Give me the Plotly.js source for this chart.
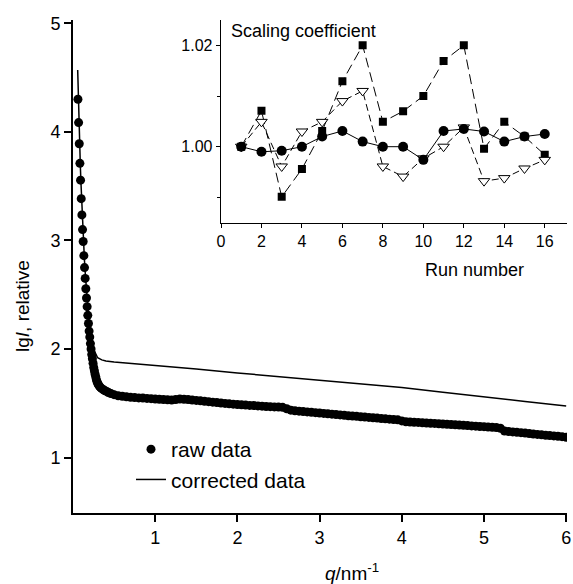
<!DOCTYPE html>
<html>
<head>
<meta charset="utf-8">
<script src="https://cdn.plot.ly/plotly-3.0.1.min.js"></script>
<style>html,body{margin:0;padding:0;background:#fff;}#chart{width:573px;height:584px;}</style>
</head>
<body>
<div id="chart"></div>
<script>
// ---- Main plot: raw data (dots) ----
const rawQ = [0.060,0.068,0.076,0.084,0.092,0.100,0.108,0.116,0.124,0.132,0.140,0.148,0.156,0.164,0.172,0.180,0.188,0.196,0.204,0.212,
  0.220,0.228,0.236,0.244,0.252,0.260,0.268,0.276,0.284,0.292,0.300,0.310,0.320,0.335,0.350,0.370,0.390,0.410,0.430,0.460,0.500,0.550,
  0.60,0.65,0.70,0.75,0.80,0.85,0.90,0.95,1.00,1.05,1.10,1.15,1.20,1.25,1.30,1.35,1.40,1.45,1.50,1.55,1.60,1.65,1.70,1.75,1.80,1.85,1.90,1.95,
  2.00,2.05,2.10,2.15,2.20,2.25,2.30,2.35,2.40,2.45,2.50,2.55,2.60,2.65,2.70,2.75,2.80,2.85,2.90,2.95,3.00,3.05,3.10,3.15,3.20,3.25,3.30,3.35,
  3.40,3.45,3.50,3.55,3.60,3.65,3.70,3.75,3.80,3.85,3.90,3.95,4.00,4.05,4.10,4.15,4.20,4.25,4.30,4.35,4.40,4.45,4.50,4.55,4.60,4.65,4.70,4.75,
  4.80,4.85,4.90,4.95,5.00,5.05,5.10,5.15,5.20,5.25,5.30,5.35,5.40,5.45,5.50,5.55,5.60,5.65,5.70,5.75,5.80,5.85,5.90,5.95,6.00];
const rawLgI = [4.30,4.085,3.89,3.71,3.555,3.385,3.235,3.10,2.99,2.86,2.75,2.65,2.555,2.47,2.39,2.31,2.235,2.165,2.11,2.05,
  2.00,1.95,1.91,1.87,1.83,1.80,1.77,1.745,1.72,1.70,1.685,1.67,1.66,1.645,1.635,1.625,1.615,1.61,1.60,1.59,1.58,1.57,
  1.565,1.56,1.555,1.553,1.55,1.548,1.545,1.543,1.54,1.538,1.535,1.533,1.53,1.535,1.54,1.538,1.535,1.531,1.527,1.523,1.519,1.515,1.511,1.507,1.503,1.499,1.495,1.492,
  1.489,1.486,1.484,1.481,1.479,1.476,1.474,1.471,1.469,1.467,1.465,1.463,1.45,1.437,1.432,1.428,1.425,1.421,1.418,1.414,1.411,1.407,1.404,1.40,1.397,1.393,1.39,1.386,
  1.383,1.38,1.376,1.373,1.37,1.367,1.364,1.36,1.357,1.354,1.351,1.348,1.338,1.33,1.328,1.326,1.324,1.321,1.319,1.317,1.315,1.312,1.31,1.307,1.305,1.303,1.30,1.298,
  1.295,1.292,1.29,1.287,1.285,1.282,1.28,1.277,1.27,1.245,1.24,1.237,1.233,1.23,1.226,1.222,1.218,1.214,1.21,1.206,1.203,1.20,1.197,1.193,1.188];

// ---- Main plot: corrected data (line) ----
const corQ = [0.057,0.066,0.074,0.082,0.090,0.098,0.106,0.114,0.122,0.130,0.138,0.146,0.154,0.162,0.170,0.180,0.190,0.200,0.210,0.220,
  0.230,0.240,0.260,0.280,0.300,0.350,0.400,0.500,0.750,1.000,1.500,2.000,2.500,3.000,3.500,4.000,4.500,5.000,5.500,6.000];
const corLgI = [4.57,4.25,4.03,3.84,3.67,3.51,3.35,3.20,3.07,2.96,2.84,2.73,2.63,2.54,2.46,2.37,2.29,2.22,2.16,2.11,
  2.07,2.03,1.98,1.945,1.92,1.90,1.89,1.88,1.865,1.848,1.815,1.78,1.745,1.71,1.68,1.645,1.603,1.557,1.517,1.475];

// ---- Inset: scaling coefficient vs run number ----
const runs = [1,2,3,4,5,6,7,8,9,10,11,12,13,14,15,16];
const scaleCircles = [1.000,0.999,0.9992,1.000,1.002,1.0031,1.001,1.000,1.000,0.9974,1.0031,1.0035,1.003,1.001,1.002,1.0025];
const scaleSquares = [1.000,1.0071,0.9901,0.9956,1.0031,1.0129,1.020,1.0049,1.007,1.010,1.0169,1.020,0.9996,1.0049,1.002,0.9984];
const scaleTriangles = [1.000,1.0049,0.9961,1.003,1.0049,1.009,1.011,0.9961,0.9941,0.9977,1.000,1.0038,0.9932,0.9938,0.9957,0.9974];

const mainTicksX = [1,2,3,4,5,6];
const mainTicksY = [1,2,3,4,5];
const insetTicksY = [1.00,1.02];
const insetMinorY = [0.99,1.01];

const FONT = 'Liberation Sans, Arial, Helvetica, sans-serif';

const traces = [
  {x: rawQ, y: rawLgI, name: 'raw data', type: 'scatter', mode: 'markers',
   marker: {color: '#000', size: 9}, xaxis: 'x', yaxis: 'y'},
  {x: corQ, y: corLgI, name: 'corrected data', type: 'scatter', mode: 'lines',
   line: {color: '#000', width: 1.5}, xaxis: 'x', yaxis: 'y'},
  {x: runs, y: scaleSquares, type: 'scatter', mode: 'lines+markers', showlegend: false,
   line: {color: '#000', width: 1, dash: '10px,5px'},
   marker: {symbol: 'square', size: 8, color: '#000'}, xaxis: 'x2', yaxis: 'y2'},
  {x: runs, y: scaleTriangles, type: 'scatter', mode: 'lines+markers', showlegend: false,
   line: {color: '#000', width: 1, dash: '7px,4px'},
   marker: {symbol: 'triangle-down', size: 10, color: '#fff', line: {color: '#000', width: 1}}, xaxis: 'x2', yaxis: 'y2'},
  {x: runs, y: scaleCircles, type: 'scatter', mode: 'lines+markers', showlegend: false,
   line: {color: '#000', width: 1},
   marker: {symbol: 'circle', size: 10, color: '#000'}, xaxis: 'x2', yaxis: 'y2'}
];

// plot area in px: x 73..567, y 20..513
const L = 73, R = 567, T = 20, B = 513;
const px = v => (v - L) / (R - L);
const py = v => (B - v) / (B - T);

const layout = {
  width: 573, height: 584,
  margin: {l: L, r: 573 - R, t: T, b: 584 - B},
  paper_bgcolor: '#fff', plot_bgcolor: 'rgba(0,0,0,0)',
  font: {family: FONT, color: '#000', size: 18},
  showlegend: true,
  legend: {x: px(131), y: py(429), xanchor: 'left', yanchor: 'top',
           bgcolor: 'rgba(0,0,0,0)', font: {family: FONT, size: 21, color: '#000'}},
  xaxis: {domain: [0, 1], anchor: 'y', range: [0, 6.01], tickvals: mainTicksX,
          showline: true, linecolor: '#000', linewidth: 2, ticks: 'outside', ticklen: 7, tickwidth: 2,
          tickcolor: '#000', showgrid: false, zeroline: false, tickfont: {size: 18}},
  yaxis: {domain: [0, 1], anchor: 'x', range: [0.49, 5.03], tickvals: mainTicksY,
          showline: true, linecolor: '#000', linewidth: 2, ticks: 'outside', ticklen: 7, tickwidth: 2,
          tickcolor: '#000', showgrid: false, zeroline: false, tickfont: {size: 18}},
  xaxis2: {domain: [px(221), 1], anchor: 'y2', range: [0, 17.1], tick0: 0, dtick: 2,
           showline: true, linecolor: '#000', linewidth: 1.3, ticks: 'outside', ticklen: 4, tickwidth: 1,
           tickcolor: '#000', showgrid: false, zeroline: false, tickfont: {size: 16}},
  yaxis2: {domain: [py(222.7), 1], anchor: 'x2', range: [0.985, 1.025], tickvals: insetTicksY, tickformat: '.2f',
           showline: true, linecolor: '#000', linewidth: 1.3, ticks: 'outside', ticklen: 4, tickwidth: 1,
           tickcolor: '#000', showgrid: false, zeroline: false, tickfont: {size: 16},
           minor: {tickvals: insetMinorY, ticks: 'outside', ticklen: 3, tickwidth: 1, tickcolor: '#000', showgrid: false}},
  annotations: [
    {text: 'lg<i>I</i>, relative', xref: 'paper', yref: 'paper', x: px(22), y: py(306), textangle: -90,
     showarrow: false, xanchor: 'center', yanchor: 'middle', font: {size: 19}},
    {text: '<i>q</i>/nm<sup>-1</sup>', xref: 'paper', yref: 'paper', x: px(352), y: py(572),
     showarrow: false, xanchor: 'center', yanchor: 'middle', font: {size: 19}},
    {text: 'Scaling coefficient', xref: 'paper', yref: 'paper', x: px(229), y: py(31),
     showarrow: false, xanchor: 'left', yanchor: 'middle', font: {size: 18}},
    {text: 'Run number', xref: 'paper', yref: 'paper', x: px(474), y: py(270),
     showarrow: false, xanchor: 'center', yanchor: 'middle', font: {size: 18}}
  ]
};

Plotly.newPlot('chart', traces, layout, {displayModeBar: false, staticPlot: true});
</script>
</body>
</html>
